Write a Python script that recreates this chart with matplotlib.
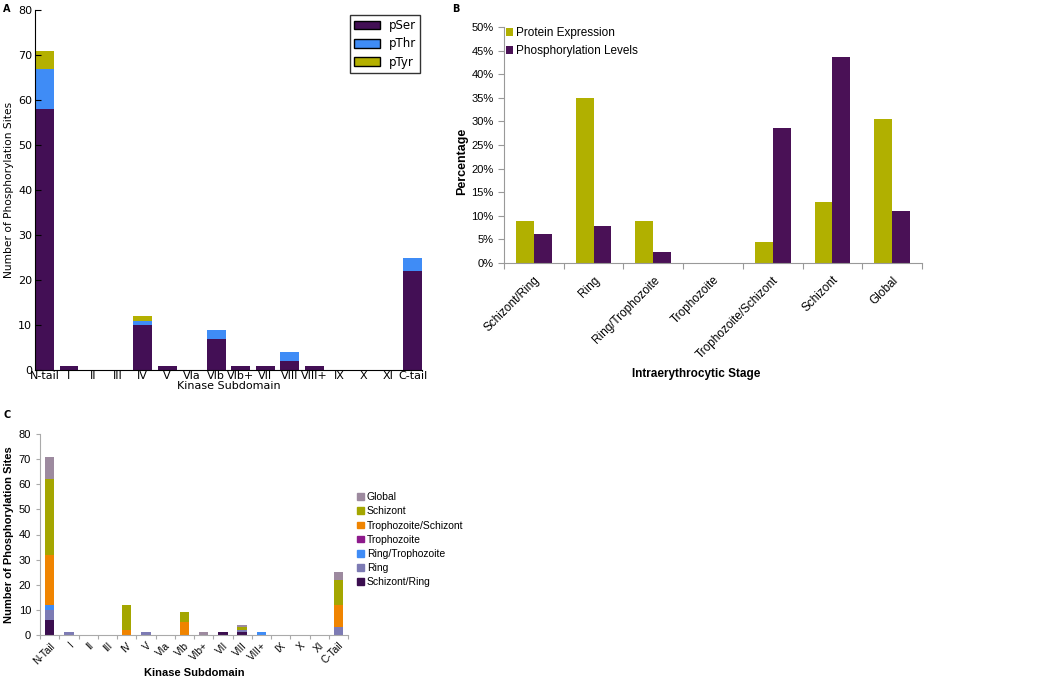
import numpy as np
import matplotlib.pyplot as plt
from matplotlib.patches import Patch

# ---- Panel A data: phosphorylation sites per kinase subdomain ----
subdominios_a = ["N-tail", "I", "II", "III", "IV", "V", "VIa", "VIb", "VIb+",
                 "VII", "VIII", "VIII+", "IX", "X", "XI", "C-tail"]
pser = [58, 1, 0, 0, 10, 1, 0, 7, 1, 1, 2, 1, 0, 0, 0, 22]
pthr = [9, 0, 0, 0, 1, 0, 0, 2, 0, 0, 2, 0, 0, 0, 0, 3]
ptyr = [4, 0, 0, 0, 1, 0, 0, 0, 0, 0, 0, 0, 0, 0, 0, 0]

# ---- Panel B data: percentage per intraerythrocytic stage ----
estagios = ["Schizont/Ring", "Ring", "Ring/Trophozoite", "Trophozoite",
            "Trophozoite/Schizont", "Schizont", "Global"]
expressao = [9.0, 35.0, 9.0, 0.0, 4.4, 13.0, 30.5]
fosforilacao = [6.2, 7.8, 2.3, 0.0, 28.5, 43.7, 11.0]

# ---- Panel C data: sites per subdomain split by stage ----
subdominios_c = ["N-Tail", "I", "II", "III", "IV", "V", "VIa", "VIb", "VIb+",
                 "VII", "VIII", "VIII+", "IX", "X", "XI", "C-Tail"]
estagios_c = ["Schizont/Ring", "Ring", "Ring/Trophozoite", "Trophozoite",
              "Trophozoite/Schizont", "Schizont", "Global"]
c_schizont_ring = [6, 0, 0, 0, 0, 0, 0, 0, 0, 1, 1, 0, 0, 0, 0, 0]
c_ring = [4, 1, 0, 0, 0, 1, 0, 0, 0, 0, 1, 0, 0, 0, 0, 3]
c_ring_troph = [2, 0, 0, 0, 0, 0, 0, 0, 0, 0, 0, 1, 0, 0, 0, 0]
c_troph = [0, 0, 0, 0, 0, 0, 0, 0, 0, 0, 0, 0, 0, 0, 0, 0]
c_troph_schizont = [20, 0, 0, 0, 2, 0, 0, 5, 0, 0, 0, 0, 0, 0, 0, 9]
c_schizont = [30, 0, 0, 0, 10, 0, 0, 4, 0, 0, 1, 0, 0, 0, 0, 10]
c_global = [9, 0, 0, 0, 0, 0, 0, 0, 1, 0, 1, 0, 0, 0, 0, 3]

W, H = 1050, 682
figure = plt.figure(figsize=(W / 100, H / 100), dpi=100)


def caixa(esq, topo, dir, base):
    return [esq / W, 1 - base / H, (dir - esq) / W, (base - topo) / H]


# ================= Panel A =================
ax_a = figure.add_axes(caixa(35, 10, 422, 370))
x = np.arange(len(subdominios_a))
cores_a = ["#430f55", "#3f8cf6", "#b4b000"]
larg = 0.77
ax_a.bar(x, pser, larg, color=cores_a[0], label="pSer")
ax_a.bar(x, pthr, larg, bottom=pser, color=cores_a[1], label="pThr")
ax_a.bar(x, ptyr, larg, bottom=np.add(pser, pthr), color=cores_a[2], label="pTyr")
ax_a.set_xlim(-larg / 2, len(x) - 1 + larg / 2)
ax_a.set_ylim(0, 80)
ax_a.set_yticks(range(0, 81, 10))
ax_a.set_xticks(x)
ax_a.set_xticklabels(subdominios_a)
ax_a.tick_params(direction="in", labelsize=8, length=4, pad=2)
ax_a.tick_params(axis="x", length=0, pad=1)
for s in ["top", "right"]:
    ax_a.spines[s].set_visible(False)
ax_a.set_xlabel("Kinase Subdomain", fontsize=8, labelpad=0)
ax_a.set_ylabel("Number of Phosphorylation Sites", fontsize=7.7, labelpad=3)
leg_a = ax_a.legend(loc="upper right", bbox_to_anchor=(420 / W, 1 - 15 / H),
                    bbox_transform=figure.transFigure, borderaxespad=0,
                    fontsize=8.5, fancybox=False, edgecolor="black",
                    handlelength=2.2, handleheight=0.75, borderpad=0.35,
                    labelspacing=0.45, handletextpad=0.7)
for p in leg_a.get_patches():
    p.set_edgecolor("black")
figure.text(3 / W, 1 - 12 / H, "A", fontsize=7, fontweight="bold")

# ================= Panel B =================
ax_b = figure.add_axes(caixa(504, 27, 922, 263))
xb = np.arange(len(estagios))
lb = 0.3
ax_b.bar(xb - lb / 2, expressao, lb, color="#b1b000", label="Protein Expression")
ax_b.bar(xb + lb / 2, fosforilacao, lb, color="#4a1156", label="Phosphorylation Levels")
ax_b.set_xlim(-0.5, len(estagios) - 0.5)
ax_b.set_ylim(0, 50)
ax_b.set_yticks(range(0, 51, 5))
ax_b.set_yticklabels([f"{v}%" for v in range(0, 51, 5)], fontsize=8,
                     family="Liberation Sans")
ax_b.set_xticks(np.arange(-0.5, len(estagios), 1))
ax_b.set_xticklabels([])
ax_b.set_xticks(xb, minor=True)
ax_b.set_xticklabels(estagios, minor=True, rotation=45, ha="right",
                     rotation_mode="anchor", fontsize=8.5, family="Liberation Sans")
ax_b.tick_params(axis="x", which="minor", length=0, pad=8)
ax_b.tick_params(axis="both", which="major", length=4, color="#999999")
for s in ["top", "right"]:
    ax_b.spines[s].set_visible(False)
for s in ["left", "bottom"]:
    ax_b.spines[s].set_color("#999999")
ax_b.set_ylabel("Percentage", fontsize=9, fontweight="bold",
                family="Liberation Sans")
ax_b.yaxis.set_label_coords(-0.085, 0.43)
ax_b.set_xlabel("Intraerythrocytic Stage", fontsize=8.5, fontweight="bold",
                family="Liberation Sans")
ax_b.xaxis.set_label_coords(0.46, -0.445)
ax_b.legend(loc="upper left", bbox_to_anchor=(-0.02, 1.045), frameon=False,
            prop={"family": "Liberation Sans", "size": 8.5}, handlelength=0.55,
            handleheight=0.7, handletextpad=0.25, labelspacing=0.5)
figure.text(452 / W, 1 - 12 / H, "B", fontsize=7, fontweight="bold")

# ================= Panel C =================
ax_c = figure.add_axes(caixa(40, 434, 348, 635))
xc = np.arange(len(subdominios_c))
series_c = [c_schizont_ring, c_ring, c_ring_troph, c_troph,
            c_troph_schizont, c_schizont, c_global]
cores_c = ["#3b0e4f", "#7d7bb4", "#3f8cf6", "#8e1a8c", "#f08400", "#a4a600", "#9d8a9f"]
lc = 0.5
base = np.zeros(len(xc))
for serie, cor, nome in zip(series_c, cores_c, estagios_c):
    ax_c.bar(xc, serie, lc, bottom=base, color=cor, label=nome)
    base += np.array(serie)
ax_c.set_xlim(-0.5, len(xc) - 0.5)
ax_c.set_ylim(0, 80)
ax_c.set_yticks(range(0, 81, 10))
ax_c.set_yticklabels([str(v) for v in range(0, 81, 10)], fontsize=8,
                     family="Liberation Sans")
ax_c.set_xticks(np.arange(-0.5, len(xc), 1))
ax_c.set_xticklabels([])
ax_c.set_xticks(xc, minor=True)
ax_c.set_xticklabels(subdominios_c, minor=True, rotation=45, ha="right",
                     rotation_mode="anchor", fontsize=7.3, family="Liberation Sans")
ax_c.tick_params(axis="x", which="minor", length=0, pad=4)
ax_c.tick_params(axis="both", which="major", length=3, color="#aaaaaa")
for s in ["top", "right"]:
    ax_c.spines[s].set_visible(False)
for s in ["left", "bottom"]:
    ax_c.spines[s].set_color("#aaaaaa")
ax_c.set_ylabel("Number of Phosphorylation Sites", fontsize=8, fontweight="bold",
                family="Liberation Sans", labelpad=3)
ax_c.set_xlabel("Kinase Subdomain", fontsize=8, fontweight="bold",
                family="Liberation Sans")
ax_c.xaxis.set_label_coords(0.5, -0.19)
ax_c.xaxis.label.set_va("center")
alcas = [Patch(color=c, label=n) for c, n in zip(cores_c, estagios_c)][::-1]
figure.legend(handles=alcas, loc="upper left", bbox_to_anchor=(350 / W, 1 - 485 / H),
              frameon=False, prop={"family": "Liberation Sans", "size": 7.5},
              handlelength=0.6, handleheight=0.6, handletextpad=0.3,
              labelspacing=0.4, borderpad=0.2)
figure.text(3 / W, 1 - 418 / H, "C", fontsize=7, fontweight="bold")

figure.savefig("out.png", dpi=100)
plt.close(figure)
